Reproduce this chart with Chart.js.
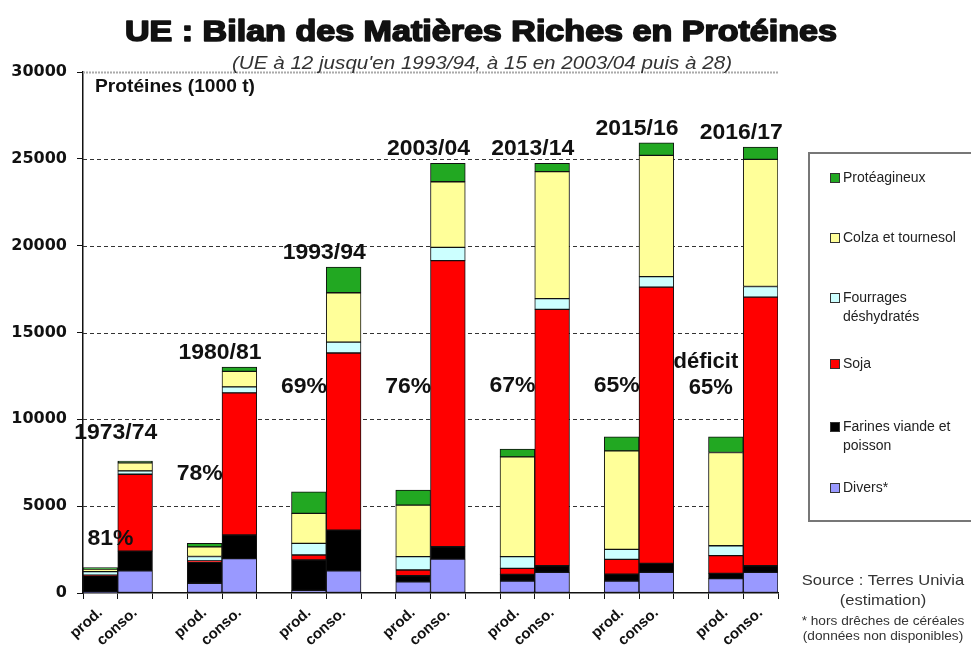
<!DOCTYPE html>
<html lang="fr">
<head>
<meta charset="UTF-8">
<title>UE : Bilan des Matières Riches en Protéines</title>
<script src="https://cdn.jsdelivr.net/npm/chart.js@4.4.0/dist/chart.umd.min.js"></script>
<style>
  body { margin: 0; background: #fff; font-family: "Liberation Sans", Arial, sans-serif; }
  #wrap { position: relative; width: 971px; height: 650px; overflow: hidden; }
  #legend { position: absolute; left: 808px; top: 152px; width: 180px; height: 370px;
            border: 2px solid #777; box-sizing: border-box; }
  .item { position: absolute; left: 20px; font-size: 14px; line-height: 19px; color: #222; padding-left: 13px; white-space: nowrap; }
  .item i { position: absolute; left: 0; top: 5px; width: 8px; height: 8px; border: 1px solid #333; }
  .note { position: absolute; left: 790px; width: 186px; text-align: center; color: #333;
          transform: scaleX(1.14); transform-origin: 93px 0; white-space: nowrap; }
</style>
</head>
<body>
<div id="wrap">
  <canvas id="myChart" width="971" height="650"></canvas>
  <div id="legend"></div>
  <div class="note" style="top:570px;font-size:14.5px;line-height:20px">Source : Terres Univia<br>(estimation)</div>
  <div class="note" style="top:614px;font-size:12px;line-height:15px">* hors drêches de céréales<br>(données non disponibles)</div>
</div>

<script>
  // campagnes et bilans UE (1000 t de protéines)
  const years = ['1973/74', '1980/81', '1993/94', '2003/04', '2013/14', '2015/16', '2016/17']
  const deficit = ['81%', '78%', '69%', '76%', '67%', '65%', '65%']
  const yTicks = [0, 5000, 10000, 15000, 20000, 25000, 30000]

  // production
  const diversProd  = [60, 560, 150, 650, 690, 690, 825]
  const farinesProd = [940, 1210, 1750, 345, 385, 400, 305]
  const sojaProd    = [30, 80, 290, 330, 345, 850, 1020]
  const fourrProd   = [200, 250, 670, 765, 670, 570, 570]
  const colzaProd   = [150, 560, 1725, 2970, 5750, 5670, 5370]
  const proteaProd  = [80, 200, 1245, 860, 440, 810, 900]

  // consommation
  const diversConso  = [1280, 1975, 1280, 1955, 1190, 1190, 1190]
  const farinesConso = [1130, 1365, 2340, 710, 380, 520, 380]
  const sojaConso    = [4430, 8180, 10200, 16475, 14760, 15900, 15470]
  const fourrConso   = [190, 345, 630, 760, 620, 610, 610]
  const colzaConso   = [460, 900, 2840, 3780, 7310, 6980, 7320]
  const proteaConso  = [110, 250, 1470, 1060, 480, 720, 700]

  const series = [
    { label: 'Divers*', prod: diversProd, conso: diversConso, color: '#9999ff' },
    { label: 'Farines viande et poisson', prod: farinesProd, conso: farinesConso, color: '#000000' },
    { label: 'Soja', prod: sojaProd, conso: sojaConso, color: '#ff0000' },
    { label: 'Fourrages déshydratés', prod: fourrProd, conso: fourrConso, color: '#ccffff' },
    { label: 'Colza et tournesol', prod: colzaProd, conso: colzaConso, color: '#ffff99' },
    { label: 'Protéagineux', prod: proteaProd, conso: proteaConso, color: '#22a822' }
  ]

  // 3 slots par campagne : prod., conso., vide
  const labels = []
  years.forEach((y, i) => {
    labels.push('prod.', 'conso.')
    if (i < years.length - 1) labels.push('')
  })
  function spread(prod, conso) {
    const out = []
    prod.forEach((v, i) => {
      out.push(v, conso[i])
      if (i < prod.length - 1) out.push(null)
    })
    return out
  }

  // legend (html)
  const legendTop = { 'Protéagineux': 14, 'Colza et tournesol': 74, 'Fourrages déshydratés': 134,
                      'Soja': 200, 'Farines viande et poisson': 263, 'Divers*': 324 }
  const legendText = { 'Fourrages déshydratés': 'Fourrages<br>déshydratés',
                       'Farines viande et poisson': 'Farines viande et<br>poisson' }
  const leg = document.getElementById('legend')
  series.slice().reverse().forEach(s => {
    const d = document.createElement('div')
    d.className = 'item'
    d.style.top = legendTop[s.label] + 'px'
    d.innerHTML = '<i style="background:' + s.color + '"></i>' + (legendText[s.label] || s.label)
    leg.appendChild(d)
  })

  const bold = w => ({ family: '"Liberation Sans", Arial, sans-serif', weight: 'bold', size: w })

  // text stretched horizontally to a given width, centred on x
  function fitText(ctx, txt, x, y, w, heavy) {
    const m = ctx.measureText(txt).width
    ctx.save()
    ctx.translate(x, y)
    ctx.scale(w / m, 1)
    if (heavy) {
      ctx.lineWidth = heavy
      ctx.strokeStyle = ctx.fillStyle
      ctx.lineJoin = 'round'
      ctx.strokeText(txt, 0, 0)
    }
    ctx.fillText(txt, 0, 0)
    ctx.restore()
  }

  const texts = {
    id: 'texts',
    beforeDatasetsDraw(chart) {
      const { ctx, chartArea: a, scales: { y } } = chart
      ctx.save()
      y.ticks.forEach(t => {
        if (t.value === 0) return
        const py = Math.round(y.getPixelForValue(t.value)) + 0.5
        ctx.beginPath()
        if (t.value === y.max) { ctx.strokeStyle = '#aaa'; ctx.setLineDash([2, 1]); ctx.lineWidth = 2 }
        else { ctx.strokeStyle = '#333'; ctx.setLineDash([4, 3]); ctx.lineWidth = 1 }
        ctx.moveTo(a.left, py)
        ctx.lineTo(a.right, py)
        ctx.stroke()
      })
      ctx.restore()
    },
    afterDraw(chart) {
      const { ctx, scales: { y } } = chart
      const bars = chart.getDatasetMeta(0).data
      ctx.save()
      ctx.fillStyle = '#111'
      ctx.textAlign = 'center'
      ctx.textBaseline = 'alphabetic'
      ctx.font = 'bold 29px "Liberation Sans", Arial, sans-serif'
      fitText(ctx, 'UE : Bilan des Matières Riches en Protéines', 481, 41, 712, 1.6)
      ctx.font = 'italic 19px "Liberation Sans", Arial, sans-serif'
      ctx.fillStyle = '#333'
      fitText(ctx, "(UE à 12 jusqu'en 1993/94, à 15 en 2003/04 puis à 28)", 482, 69, 500)
      ctx.fillStyle = '#111'
      ctx.font = 'bold 18px "Liberation Sans", Arial, sans-serif'
      fitText(ctx, 'Protéines (1000 t)', 175, 92, 160)

      ctx.font = 'bold 22px "Liberation Sans", Arial, sans-serif'
      const pctAt = [3200, 6950, 11950, 11950, 12050, 12050, 11900]
      years.forEach((yr, g) => {
        const p = bars[g * 3], c = bars[g * 3 + 1]
        const total = series.reduce((s, d) => s + d.conso[g], 0)
        const edge = c.x - c.width / 2 - 2
        const lift = g === 0 ? 22 : 8
        fitText(ctx, yr, edge, y.getPixelForValue(total) - lift, 83)
        const py = y.getPixelForValue(pctAt[g]) + 8
        if (g === years.length - 1) {
          ctx.fillText('déficit', p.x - 20, py - 26)
          ctx.fillText(deficit[g], p.x - 15, py)
        } else {
          fitText(ctx, deficit[g], p.x + (g === 0 ? 10 : -5), py, 46)
        }
      })
      ctx.restore()
    }
  }

  new Chart(document.getElementById('myChart'), {
    type: 'bar',
    data: {
      labels: labels,
      datasets: series.map(s => ({
        label: s.label,
        data: spread(s.prod, s.conso),
        backgroundColor: s.color,
        borderColor: '#111',
        borderWidth: 1,
        borderSkipped: false,
        categoryPercentage: 1,
        barPercentage: 1
      }))
    },
    options: {
      responsive: false,
      animation: false,
      devicePixelRatio: 1,
      layout: { padding: { top: 72, right: 193, left: 0, bottom: 0 } },
      plugins: { legend: { display: false }, title: { display: false }, tooltip: { enabled: false } },
      scales: {
        x: {
          stacked: true,
          afterFit: s => { s.height = 57 },
          grid: { drawOnChartArea: false, drawTicks: true, offset: true, tickLength: 6, color: '#111' },
          border: { color: '#111', width: 1.5 },
          ticks: { autoSkip: false, minRotation: 42, maxRotation: 42, padding: 5, color: '#111', font: bold(15) }
        },
        y: {
          stacked: true,
          min: 0,
          max: 30000,
          afterFit: s => { s.width = 83 },
          afterBuildTicks: s => { s.ticks = yTicks.map(v => ({ value: v })) },
          grid: { drawOnChartArea: false, drawTicks: true, tickLength: 6, color: '#111' },
          border: { color: '#111', width: 1.5 },
          ticks: {
            padding: 10,
            color: '#111',
            font: { family: '"DejaVu Sans", sans-serif', weight: 'bold', size: 16 },
            callback: v => String(v)
          }
        }
      }
    },
    plugins: [texts]
  })
</script>
</body>
</html>
